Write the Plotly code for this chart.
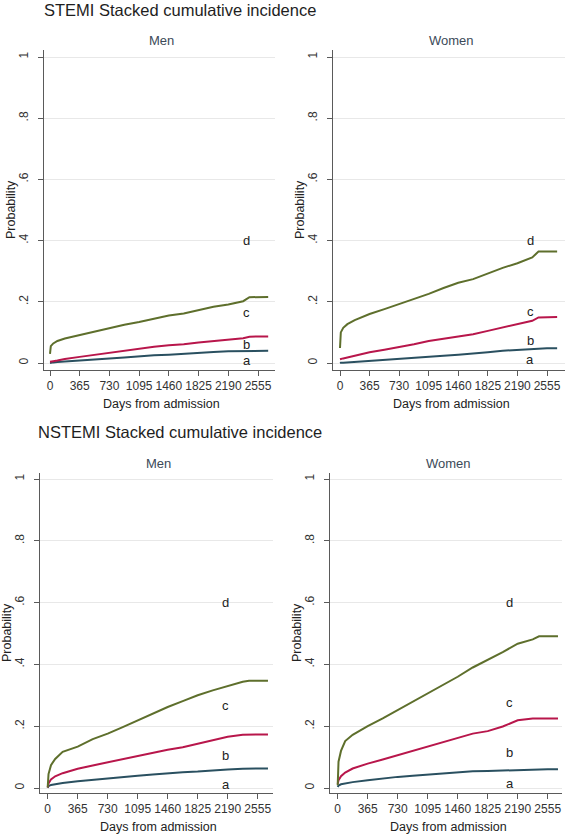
import plotly.graph_objects as go

# ---------------- data ----------------
days = [0, 10, 40, 91, 182, 365, 548, 730, 913, 1095, 1278, 1460, 1643,
        1825, 2008, 2190, 2373, 2450, 2555, 2680]

x_tickvals = [0, 365, 730, 1095, 1460, 1825, 2190, 2555]
x_ticktext = ["0", "365", "730", "1095", "1460", "1825", "2190", "2555"]
y_tickvals = [0, 0.2, 0.4, 0.6, 0.8, 1.0]
y_ticktext = ["0", ".2", ".4", ".6", ".8", "1"]

# STEMI, Men (stacked cumulative incidence boundaries)
stemi_men_a = [0.000, 0.001, 0.002, 0.003, 0.005, 0.008, 0.012, 0.015, 0.018, 0.022,
               0.025, 0.027, 0.030, 0.035, 0.036, 0.038, 0.039, 0.040, 0.040, 0.040]
stemi_men_b = [0.004, 0.005, 0.006, 0.008, 0.013, 0.020, 0.027, 0.034, 0.041, 0.047,
               0.053, 0.058, 0.061, 0.067, 0.071, 0.076, 0.081, 0.086, 0.087, 0.087]
stemi_men_c = [0.030, 0.055, 0.064, 0.072, 0.080, 0.091, 0.104, 0.115, 0.125, 0.134,
               0.145, 0.155, 0.162, 0.173, 0.184, 0.191, 0.202, 0.215, 0.216, 0.216]

# STEMI, Women
stemi_women_a = [0.000, 0.001, 0.001, 0.002, 0.004, 0.008, 0.012, 0.015, 0.018, 0.021,
                 0.024, 0.027, 0.030, 0.035, 0.040, 0.043, 0.046, 0.048, 0.048, 0.048]
stemi_women_b = [0.012, 0.013, 0.015, 0.018, 0.024, 0.035, 0.043, 0.051, 0.061, 0.072,
                 0.079, 0.086, 0.094, 0.105, 0.116, 0.127, 0.138, 0.149, 0.150, 0.150]
stemi_women_c = [0.049, 0.100, 0.115, 0.127, 0.140, 0.160, 0.176, 0.192, 0.210, 0.226,
                 0.245, 0.262, 0.274, 0.292, 0.311, 0.326, 0.345, 0.364, 0.364, 0.364]

# NSTEMI, Men
nstemi_men_a = [0.001, 0.006, 0.010, 0.013, 0.016, 0.022, 0.027, 0.031, 0.036, 0.040,
                0.044, 0.048, 0.051, 0.053, 0.057, 0.060, 0.062, 0.063, 0.063, 0.063]
nstemi_men_b = [0.002, 0.015, 0.028, 0.038, 0.048, 0.062, 0.073, 0.083, 0.094, 0.105,
                0.115, 0.124, 0.132, 0.143, 0.155, 0.166, 0.172, 0.173, 0.173, 0.173]
nstemi_men_c = [0.002, 0.045, 0.074, 0.094, 0.117, 0.134, 0.158, 0.176, 0.197, 0.219,
                0.242, 0.262, 0.281, 0.300, 0.316, 0.330, 0.344, 0.347, 0.347, 0.347]

# NSTEMI, Women
nstemi_women_a = [0.003, 0.008, 0.012, 0.015, 0.019, 0.025, 0.031, 0.036, 0.040, 0.044,
                  0.048, 0.052, 0.054, 0.055, 0.057, 0.059, 0.060, 0.061, 0.061, 0.061]
nstemi_women_b = [0.014, 0.025, 0.038, 0.050, 0.063, 0.079, 0.092, 0.106, 0.120, 0.136,
                  0.149, 0.163, 0.176, 0.184, 0.199, 0.219, 0.225, 0.225, 0.225, 0.225]
nstemi_women_c = [0.009, 0.085, 0.120, 0.152, 0.172, 0.200, 0.225, 0.252, 0.279, 0.306,
                  0.335, 0.360, 0.390, 0.414, 0.440, 0.467, 0.481, 0.491, 0.491, 0.491]

label_names = ["a", "b", "c", "d"]
stemi_men_label_y = [0.007, 0.060, 0.166, 0.40]
stemi_women_label_y = [0.013, 0.075, 0.167, 0.399]
nstemi_men_label_y = [0.011, 0.105, 0.266, 0.60]
nstemi_women_label_y = [0.016, 0.114, 0.276, 0.60]
stemi_men_label_x = 2416
stemi_women_label_x = 2346
nstemi_men_label_x = 2169
nstemi_women_label_x = 2096

group_titles = ["STEMI Stacked cumulative incidence", "NSTEMI Stacked cumulative incidence"]
panel_titles = ["Men", "Women", "Men", "Women"]

# ---------------- layout / style ----------------
W, H = 567, 836
COL_A, COL_B, COL_C = "#2a5060", "#b8164b", "#5e6f2c"
FONT = "Liberation Sans, Arial, sans-serif"
AX_COL = "#5a5a5a"

# pixel geometry of each panel: (x_left, x_right, px_of_day0, px_of_day2555, y_top, y_bottom, px_y0, px_y1)
geom = [
    (44, 275, 50.0, 258.0, 50, 370, 363.0, 57.0),
    (333, 565, 340.0, 547.0, 50, 370, 363.0, 57.0),
    (40, 273, 47.7, 257.7, 473, 793, 788.0, 479.0),
    (330, 562, 337.7, 547.7, 473, 793, 788.0, 479.0),
]

series = [
    (stemi_men_a, stemi_men_b, stemi_men_c, stemi_men_label_x, stemi_men_label_y),
    (stemi_women_a, stemi_women_b, stemi_women_c, stemi_women_label_x, stemi_women_label_y),
    (nstemi_men_a, nstemi_men_b, nstemi_men_c, nstemi_men_label_x, nstemi_men_label_y),
    (nstemi_women_a, nstemi_women_b, nstemi_women_c, nstemi_women_label_x, nstemi_women_label_y),
]

fig = go.Figure()
annotations = []
layout_axes = {}


def paper_text(px, py, text, size, color, angle=0, xanchor="center"):
    return dict(x=px / W, y=1 - py / H, xref="paper", yref="paper", text=text,
                showarrow=False, xanchor=xanchor, yanchor="middle", textangle=angle,
                font=dict(family=FONT, size=size, color=color))


for i, (g, s) in enumerate(zip(geom, series)):
    xl, xr, p0, p2555, yt, yb, py0, py1 = g
    a, b, c, lx, ly = s
    n = "" if i == 0 else str(i + 1)
    xa, ya = "x" + n, "y" + n

    ppd = (p2555 - p0) / 2555.0
    xrange_ = [(xl - p0) / ppd, (xr - p0) / ppd]
    ppu = py0 - py1
    yrange_ = [-(yb - py0) / ppu, 1 + (py1 - yt) / ppu]

    for vals, col in ((a, COL_A), (b, COL_B), (c, COL_C)):
        fig.add_trace(go.Scatter(x=days, y=vals, mode="lines", xaxis=xa, yaxis=ya,
                                 line=dict(color=col, width=2),
                                 showlegend=False, hoverinfo="skip"))

    layout_axes["xaxis" + n] = dict(
        domain=[xl / W, xr / W], range=xrange_, anchor=ya,
        tickvals=x_tickvals, ticktext=x_ticktext, tickangle=0,
        showline=True, linecolor=AX_COL, linewidth=1,
        ticks="outside", ticklen=5, tickcolor=AX_COL, tickwidth=1,
        showgrid=False, zeroline=False,
        tickfont=dict(family=FONT, size=12, color="#333"),
    )
    layout_axes["yaxis" + n] = dict(
        domain=[1 - yb / H, 1 - yt / H], range=yrange_, anchor=xa,
        tickvals=y_tickvals, ticktext=y_ticktext, tickangle=-90,
        ticklabelstandoff=5,
        showline=True, linecolor=AX_COL, linewidth=1,
        ticks="outside", ticklen=5, tickcolor=AX_COL, tickwidth=1,
        showgrid=True, gridcolor="#e8e8e8", gridwidth=1, zeroline=False,
        tickfont=dict(family=FONT, size=12, color="#333"),
    )

    for name, yv in zip(label_names, ly):
        annotations.append(dict(x=lx, y=yv, xref=xa, yref=ya, text=name, showarrow=False,
                                xanchor="center", yanchor="middle", borderpad=0,
                                font=dict(family=FONT, size=13, color="#222")))

    cx = (xl + xr) / 2 + 2
    annotations.append(paper_text(cx, yt - 10, panel_titles[i], 13, "#3c4a58"))
    annotations.append(paper_text(xl - 33, (yt + yb) / 2, "Probability", 12.5, "#222", angle=-90))
    annotations.append(paper_text(cx, yb + 34, "Days from admission", 12.5, "#222"))

annotations.append(paper_text(42, 10, group_titles[0], 16.5, "#1e1e1e", xanchor="left"))
annotations.append(paper_text(36, 432, group_titles[1], 16.5, "#1e1e1e", xanchor="left"))

fig.update_layout(
    width=W, height=H,
    margin=dict(l=0, r=0, t=0, b=0),
    paper_bgcolor="white", plot_bgcolor="white",
    annotations=annotations,
    **layout_axes,
)

fig.write_html("out.html",
               config={"displayModeBar": False},
               post_script="document.body.style.margin='0';document.body.style.padding='0';")
